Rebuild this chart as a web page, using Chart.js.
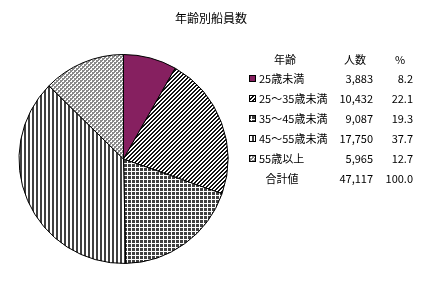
<!DOCTYPE html>
<html>
<head>
<meta charset="utf-8">
<script src="https://cdn.jsdelivr.net/npm/chart.js@4"></script>
<style>
  html, body { margin: 0; padding: 0; background: #fff; }
  #wrap { width: 436px; height: 283px; position: relative; }
</style>
</head>
<body>
<div id="wrap"><canvas id="c" width="436" height="283"></canvas></div>
<script>
// データ
const titleText = "年齢別船員数";
const headers = ["年齢", "人数", "%"];
const categories = ["25歳未満", "25〜35歳未満", "35〜45歳未満", "45〜55歳未満", "55歳以上"];
const counts = [3883, 10432, 9087, 17750, 5965];
const percents = [8.2, 22.1, 19.3, 37.7, 12.7];
const totalLabel = "合計値";
const totalCount = 47117;
const totalPercent = 100.0;

const FONT = "'Noto Sans CJK JP', sans-serif";
const canvas = document.getElementById("c");
const ctx = canvas.getContext("2d");

// 模様（ハッチング）
function makePattern(size, painter) {
  const off = document.createElement("canvas");
  off.width = size; off.height = size;
  const o = off.getContext("2d");
  o.fillStyle = "#fff"; o.fillRect(0, 0, size, size);
  painter(o, size);
  return ctx.createPattern(off, "repeat");
}
const pat = [
  "#862060",
  makePattern(4, (o, s) => { o.fillStyle = "#111"; for (let y = 0; y < s; y++) for (let x = 0; x < s; x++) if ((x + y) % 4 < 2) o.fillRect(x, y, 1, 1); }),
  makePattern(4, (o) => { o.fillStyle = "#404040"; o.fillRect(0, 0, 3, 3); }),
  makePattern(4, (o) => { o.fillStyle = "#404040"; o.fillRect(0, 0, 2, 4); }),
  makePattern(4, (o, s) => { o.fillStyle = "#8a8a8a"; for (let y = 0; y < s; y++) for (let x = 0; x < s; x++) if (((x >> 1) + (y >> 1)) % 2 === 0 || (x % 2 === 0 && y % 2 === 0)) o.fillRect(x, y, 1, 1); }),
];

const fmtN = (v) => v.toLocaleString("en-US");

// 凡例表
const tablePlugin = {
  id: "table",
  afterDraw(chart) {
    const c = chart.ctx;
    c.save();
    c.fillStyle = "#000";
    c.textBaseline = "middle";
    c.font = `12px ${FONT}`;
    c.textAlign = "center";
    c.fillText(titleText, 211, 18);

    c.font = `11px ${FONT}`;
    c.fillText(headers[0], 285, 60);
    c.fillText(headers[1], 355, 60);
    c.fillText(headers[2], 400, 60);

    categories.forEach((cat, i) => {
      const y = 79 + i * 20;
      c.fillStyle = pat[i];
      c.fillRect(249, y - 4, 7, 7);
      c.strokeStyle = "#000";
      c.lineWidth = 1;
      c.strokeRect(249.5, y - 3.5, 6, 6);
      c.fillStyle = "#000";
      c.textAlign = "left";
      c.fillText(cat, 259, y);
      c.textAlign = "right";
      c.fillText(fmtN(counts[i]), 373, y);
      c.fillText(percents[i].toFixed(1), 413, y);
    });
    const ty = 179;
    c.textAlign = "center";
    c.fillText(totalLabel, 282, ty);
    c.textAlign = "right";
    c.fillText(fmtN(totalCount), 373, ty);
    c.fillText(totalPercent.toFixed(1), 413, ty);
    c.restore();
  }
};

new Chart(canvas, {
  type: "pie",
  data: {
    labels: categories,
    datasets: [{
      data: counts,
      backgroundColor: pat,
      borderColor: "#000",
      borderWidth: 1,
    }]
  },
  options: {
    responsive: false,
    animation: false,
    layout: { padding: { left: 18, right: 207, top: 54, bottom: 19 } },
    plugins: { legend: { display: false }, tooltip: { enabled: false }, title: { display: false } },
  },
  plugins: [tablePlugin],
});
</script>
</body>
</html>
